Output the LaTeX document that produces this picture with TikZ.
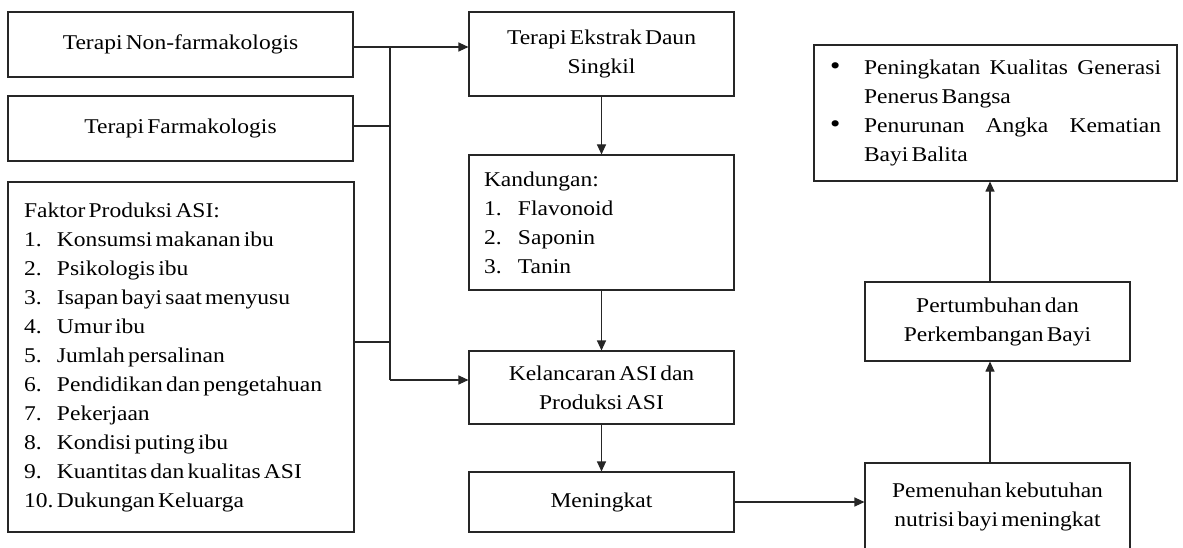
\documentclass[tikz,border=0pt]{standalone}
\usepackage{fontspec}
\setmainfont[FakeStretch=1.12,WordSpace=0.55]{Liberation Serif}
\usetikzlibrary{arrows.meta,calc}
\newcommand\mytight{\spaceskip=0pt\xspaceskip=0pt\relax}
\tikzset{
  box/.style={draw=black!85, line width=1.1pt, inner sep=0pt, align=center,
    font=\fontsize{21}{29}\selectfont},
  conn/.style={draw=black!85, line width=1.1pt},
  arr/.style={conn, -{Triangle[length=10pt,width=9pt]}}
}
\begin{document}
\begin{tikzpicture}[x=1pt,y=1pt]
\useasboundingbox (0,0) rectangle (1183,-548);
\clip (0,0) rectangle (1183,-548);
\fill[white] (0,0) rectangle (1183,-548);

\node[box, minimum width=345, minimum height=65] (A) at (180.5,-44.5) {Terapi Non-farmakologis};
\node[box, minimum width=345, minimum height=65] (B) at (180.5,-128.5) {Terapi Farmakologis};
\node[box, minimum width=346, minimum height=350, align=left, text width=314] (C) at (181,-357)
  {\mytight Faktor Produksi ASI:\\
   \makebox[33pt][l]{1.}Konsumsi makanan ibu\\
   \makebox[33pt][l]{2.}Psikologis ibu\\
   \makebox[33pt][l]{3.}Isapan bayi saat menyusu\\
   \makebox[33pt][l]{4.}Umur ibu\\
   \makebox[33pt][l]{5.}Jumlah persalinan\\
   \makebox[33pt][l]{6.}Pendidikan dan pengetahuan\\
   \makebox[33pt][l]{7.}Pekerjaan\\
   \makebox[33pt][l]{8.}Kondisi puting ibu\\
   \makebox[33pt][l]{9.}Kuantitas dan kualitas ASI\\
   \makebox[33pt][l]{10.}Dukungan Keluarga};

\node[box, minimum width=265, minimum height=84] (D) at (601.5,-54) {Terapi Ekstrak Daun\\Singkil};
\node[box, minimum width=265, minimum height=135, align=left, text width=235] (E) at (601.5,-222.5)
  {\mytight Kandungan:\\
   \makebox[34pt][l]{1.}Flavonoid\\
   \makebox[34pt][l]{2.}Saponin\\
   \makebox[34pt][l]{3.}Tanin};
\node[box, minimum width=265, minimum height=73] (F) at (601.5,-387.5) {Kelancaran ASI dan\\Produksi ASI};
\node[box, minimum width=265, minimum height=60] (G) at (601.5,-502) {Meningkat};

\node[box, minimum width=265, minimum height=88] (H) at (997.5,-507) {Pemenuhan kebutuhan\\nutrisi bayi meningkat};
\node[box, minimum width=265, minimum height=79] (I) at (997.5,-321.5) {Pertumbuhan dan\\Perkembangan Bayi};
\node[box, minimum width=363, minimum height=136, align=left, text width=331] (J) at (995.5,-113)
  {\mytight\makebox[34pt][l]{\scalebox{1.25}{\textbullet}}Peningkatan\hfill Kualitas\hfill Generasi\\
   \hspace*{34pt}Penerus Bangsa\\
   \makebox[34pt][l]{\scalebox{1.25}{\textbullet}}Penurunan\hfill Angka\hfill Kematian\\
   \hspace*{34pt}Bayi Balita};

\coordinate (j1) at (390,-47);
\coordinate (j2) at (390,-126);
\coordinate (j3) at (390,-342);
\coordinate (j4) at (390,-380);
\coordinate (xr) at (990,0);

\draw[conn] (A.east |- j1) -- (j1);
\draw[conn] (B.east |- j2) -- (j2);
\draw[conn] (C.east |- j3) -- (j3);
\draw[conn] (j1) -- (j4);
\draw[arr] (j1) -- (j1 -| D.west);
\draw[arr] (j4) -- (j4 -| F.west);

\draw[arr] (D.south) -- (E.north);
\draw[arr] (E.south) -- (F.north);
\draw[arr] (F.south) -- (G.north);
\draw[arr] (G.east) -- (G.east -| H.west);
\draw[arr] (H.north -| xr) -- (I.south -| xr);
\draw[arr] (I.north -| xr) -- (J.south -| xr);
\end{tikzpicture}
\end{document}
